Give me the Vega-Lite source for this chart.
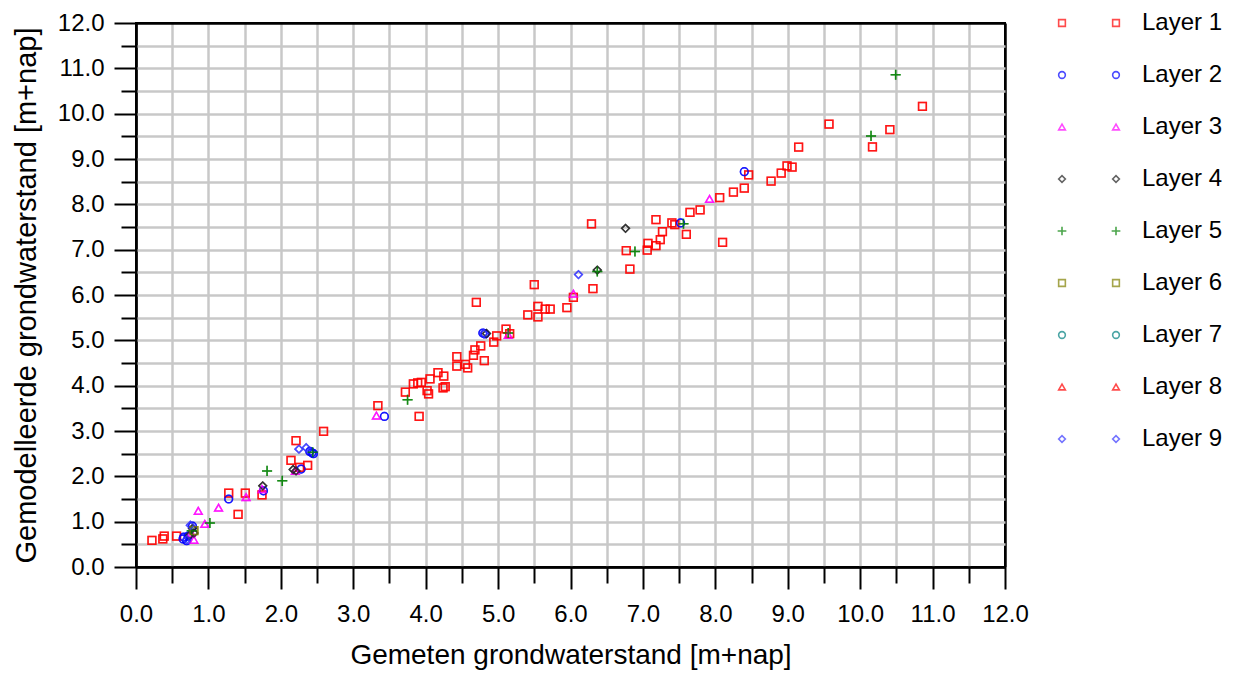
{
  "$schema": "https://vega.github.io/schema/vega-lite/v6.json",
  "width": 869,
  "height": 544,
  "autosize": "none",
  "padding": {"left": 136, "top": 23, "right": 230, "bottom": 106},
  "background": "white",
  "config": {
    "font": "Liberation Sans",
    "view": {"stroke": "black", "strokeWidth": 2}
  },
  "data": {
    "values": [
      {"layer": "Layer 1", "x": 0.22, "y": 0.59},
      {"layer": "Layer 1", "x": 0.37, "y": 0.62},
      {"layer": "Layer 1", "x": 0.39, "y": 0.68},
      {"layer": "Layer 1", "x": 0.56, "y": 0.68},
      {"layer": "Layer 1", "x": 1.28, "y": 1.63},
      {"layer": "Layer 1", "x": 1.41, "y": 1.16},
      {"layer": "Layer 1", "x": 1.51, "y": 1.63},
      {"layer": "Layer 1", "x": 1.74, "y": 1.59},
      {"layer": "Layer 1", "x": 2.14, "y": 2.35},
      {"layer": "Layer 1", "x": 2.21, "y": 2.79},
      {"layer": "Layer 1", "x": 2.37, "y": 2.24},
      {"layer": "Layer 1", "x": 2.26, "y": 2.2},
      {"layer": "Layer 1", "x": 2.59, "y": 2.99},
      {"layer": "Layer 1", "x": 3.34, "y": 3.56},
      {"layer": "Layer 1", "x": 3.91, "y": 3.32},
      {"layer": "Layer 1", "x": 3.72, "y": 3.86},
      {"layer": "Layer 1", "x": 4.02, "y": 3.89},
      {"layer": "Layer 1", "x": 4.04, "y": 3.82},
      {"layer": "Layer 1", "x": 4.24, "y": 3.95},
      {"layer": "Layer 1", "x": 4.27, "y": 3.98},
      {"layer": "Layer 1", "x": 3.83, "y": 4.04},
      {"layer": "Layer 1", "x": 3.89, "y": 4.06},
      {"layer": "Layer 1", "x": 3.94, "y": 4.07},
      {"layer": "Layer 1", "x": 4.06, "y": 4.15},
      {"layer": "Layer 1", "x": 4.17, "y": 4.29},
      {"layer": "Layer 1", "x": 4.25, "y": 4.21},
      {"layer": "Layer 1", "x": 4.43, "y": 4.64},
      {"layer": "Layer 1", "x": 4.43, "y": 4.43},
      {"layer": "Layer 1", "x": 4.55, "y": 4.47},
      {"layer": "Layer 1", "x": 4.58, "y": 4.39},
      {"layer": "Layer 1", "x": 4.66, "y": 4.67},
      {"layer": "Layer 1", "x": 4.68, "y": 4.79},
      {"layer": "Layer 1", "x": 4.76, "y": 4.88},
      {"layer": "Layer 1", "x": 4.81, "y": 4.55},
      {"layer": "Layer 1", "x": 4.94, "y": 4.96},
      {"layer": "Layer 1", "x": 4.98, "y": 5.1},
      {"layer": "Layer 1", "x": 5.11, "y": 5.25},
      {"layer": "Layer 1", "x": 5.16, "y": 5.15},
      {"layer": "Layer 1", "x": 5.41, "y": 5.56},
      {"layer": "Layer 1", "x": 5.55, "y": 5.52},
      {"layer": "Layer 1", "x": 5.55, "y": 5.75},
      {"layer": "Layer 1", "x": 5.5, "y": 6.23},
      {"layer": "Layer 1", "x": 4.7, "y": 5.84},
      {"layer": "Layer 1", "x": 5.65, "y": 5.69},
      {"layer": "Layer 1", "x": 5.72, "y": 5.69},
      {"layer": "Layer 1", "x": 5.95, "y": 5.72},
      {"layer": "Layer 1", "x": 6.04, "y": 5.95},
      {"layer": "Layer 1", "x": 6.31, "y": 6.14},
      {"layer": "Layer 1", "x": 6.29, "y": 7.57},
      {"layer": "Layer 1", "x": 6.77, "y": 6.98},
      {"layer": "Layer 1", "x": 6.82, "y": 6.57},
      {"layer": "Layer 1", "x": 7.06, "y": 6.99},
      {"layer": "Layer 1", "x": 7.07, "y": 7.14},
      {"layer": "Layer 1", "x": 7.18, "y": 7.09},
      {"layer": "Layer 1", "x": 7.24, "y": 7.22},
      {"layer": "Layer 1", "x": 7.27, "y": 7.4},
      {"layer": "Layer 1", "x": 7.18, "y": 7.66},
      {"layer": "Layer 1", "x": 7.4, "y": 7.59},
      {"layer": "Layer 1", "x": 7.44, "y": 7.55},
      {"layer": "Layer 1", "x": 7.6, "y": 7.34},
      {"layer": "Layer 1", "x": 7.65, "y": 7.82},
      {"layer": "Layer 1", "x": 7.79, "y": 7.88},
      {"layer": "Layer 1", "x": 8.06, "y": 8.15},
      {"layer": "Layer 1", "x": 8.1, "y": 7.16},
      {"layer": "Layer 1", "x": 8.25, "y": 8.27},
      {"layer": "Layer 1", "x": 8.4, "y": 8.36},
      {"layer": "Layer 1", "x": 8.46, "y": 8.65},
      {"layer": "Layer 1", "x": 8.77, "y": 8.51},
      {"layer": "Layer 1", "x": 8.91, "y": 8.69},
      {"layer": "Layer 1", "x": 8.99, "y": 8.85},
      {"layer": "Layer 1", "x": 9.06, "y": 8.82},
      {"layer": "Layer 1", "x": 9.15, "y": 9.26},
      {"layer": "Layer 1", "x": 9.57, "y": 9.77},
      {"layer": "Layer 1", "x": 10.17, "y": 9.27},
      {"layer": "Layer 1", "x": 10.41, "y": 9.65},
      {"layer": "Layer 1", "x": 10.86, "y": 10.16},
      {"layer": "Layer 2", "x": 0.65, "y": 0.62},
      {"layer": "Layer 2", "x": 0.7, "y": 0.58},
      {"layer": "Layer 2", "x": 0.72, "y": 0.68},
      {"layer": "Layer 2", "x": 0.78, "y": 0.9},
      {"layer": "Layer 2", "x": 0.66, "y": 0.66},
      {"layer": "Layer 2", "x": 1.28, "y": 1.5},
      {"layer": "Layer 2", "x": 1.76, "y": 1.68},
      {"layer": "Layer 2", "x": 2.28, "y": 2.16},
      {"layer": "Layer 2", "x": 2.4, "y": 2.55},
      {"layer": "Layer 2", "x": 2.43, "y": 2.52},
      {"layer": "Layer 2", "x": 2.45, "y": 2.5},
      {"layer": "Layer 2", "x": 3.43, "y": 3.32},
      {"layer": "Layer 2", "x": 4.79, "y": 5.16},
      {"layer": "Layer 2", "x": 4.82, "y": 5.14},
      {"layer": "Layer 2", "x": 7.52, "y": 7.59},
      {"layer": "Layer 2", "x": 8.4, "y": 8.72},
      {"layer": "Layer 3", "x": 0.8, "y": 0.6},
      {"layer": "Layer 3", "x": 0.76, "y": 0.75},
      {"layer": "Layer 3", "x": 0.86, "y": 1.24},
      {"layer": "Layer 3", "x": 0.95, "y": 0.95},
      {"layer": "Layer 3", "x": 1.14, "y": 1.31},
      {"layer": "Layer 3", "x": 1.52, "y": 1.54},
      {"layer": "Layer 3", "x": 1.74, "y": 1.72},
      {"layer": "Layer 3", "x": 2.2, "y": 2.12},
      {"layer": "Layer 3", "x": 3.32, "y": 3.34},
      {"layer": "Layer 3", "x": 5.14, "y": 5.12},
      {"layer": "Layer 3", "x": 6.04, "y": 6.03},
      {"layer": "Layer 3", "x": 7.92, "y": 8.12},
      {"layer": "Layer 4", "x": 0.78, "y": 0.85},
      {"layer": "Layer 4", "x": 0.8, "y": 0.75},
      {"layer": "Layer 4", "x": 0.74, "y": 0.7},
      {"layer": "Layer 4", "x": 1.75, "y": 1.79},
      {"layer": "Layer 4", "x": 2.17, "y": 2.15},
      {"layer": "Layer 4", "x": 2.21, "y": 2.12},
      {"layer": "Layer 4", "x": 4.84, "y": 5.15},
      {"layer": "Layer 4", "x": 6.37, "y": 6.55},
      {"layer": "Layer 4", "x": 6.76, "y": 7.47},
      {"layer": "Layer 5", "x": 0.77, "y": 0.8},
      {"layer": "Layer 5", "x": 1.02, "y": 0.97},
      {"layer": "Layer 5", "x": 1.81, "y": 2.12},
      {"layer": "Layer 5", "x": 2.02, "y": 1.9},
      {"layer": "Layer 5", "x": 2.44, "y": 2.53},
      {"layer": "Layer 5", "x": 3.75, "y": 3.69},
      {"layer": "Layer 5", "x": 5.14, "y": 5.16},
      {"layer": "Layer 5", "x": 6.37, "y": 6.52},
      {"layer": "Layer 5", "x": 6.89, "y": 6.96},
      {"layer": "Layer 5", "x": 7.56, "y": 7.57},
      {"layer": "Layer 5", "x": 10.15, "y": 9.51},
      {"layer": "Layer 5", "x": 10.49, "y": 10.86},
      {"layer": "Layer 6", "x": 0.8, "y": 0.8},
      {"layer": "Layer 9", "x": 0.75, "y": 0.92},
      {"layer": "Layer 9", "x": 0.7, "y": 0.6},
      {"layer": "Layer 9", "x": 2.25, "y": 2.6},
      {"layer": "Layer 9", "x": 2.35, "y": 2.63},
      {"layer": "Layer 9", "x": 4.8, "y": 5.15},
      {"layer": "Layer 9", "x": 6.11, "y": 6.45}
    ]
  },
  "encoding": {
    "x": {
      "field": "x",
      "type": "quantitative",
      "scale": {"domain": [0, 12], "nice": false, "zero": false},
      "axis": {
        "values": [0, 0.5, 1, 1.5, 2, 2.5, 3, 3.5, 4, 4.5, 5, 5.5, 6, 6.5, 7, 7.5, 8, 8.5, 9, 9.5, 10, 10.5, 11, 11.5, 12],
        "format": ".1f",
        "labelExpr": "datum.value % 1 === 0 ? datum.label : ''",
        "labelFlush": false,
        "labelOverlap": false,
        "labelFontSize": 24,
        "labelColor": "black",
        "labelPadding": 13,
        "tickSize": {"condition": {"test": "datum.value % 1 !== 0", "value": 16}, "value": 22},
        "tickWidth": 2,
        "tickColor": "black",
        "domainColor": "black",
        "domainWidth": 2,
        "grid": true,
        "gridColor": {"condition": {"test": "datum.value === 0 || datum.value === 12", "value": "black"}, "value": "#c8c8c8"},
        "gridWidth": 2.5,
        "gridOpacity": 1,
        "title": "Gemeten grondwaterstand [m+nap]",
        "titleFontSize": 28,
        "titleFontWeight": "normal",
        "titleColor": "black",
        "titlePadding": 15
      }
    },
    "y": {
      "field": "y",
      "type": "quantitative",
      "scale": {"domain": [0, 12], "nice": false, "zero": false},
      "axis": {
        "values": [0, 0.5, 1, 1.5, 2, 2.5, 3, 3.5, 4, 4.5, 5, 5.5, 6, 6.5, 7, 7.5, 8, 8.5, 9, 9.5, 10, 10.5, 11, 11.5, 12],
        "format": ".1f",
        "labelExpr": "datum.value % 1 === 0 ? datum.label : ''",
        "labelFlush": false,
        "labelOverlap": false,
        "labelFontSize": 24,
        "labelColor": "black",
        "labelPadding": 10,
        "tickSize": {"condition": {"test": "datum.value % 1 !== 0", "value": 15}, "value": 22},
        "tickWidth": 2,
        "tickColor": "black",
        "domainColor": "black",
        "domainWidth": 2,
        "grid": true,
        "gridColor": {"condition": {"test": "datum.value === 0 || datum.value === 12", "value": "black"}, "value": "#c8c8c8"},
        "gridWidth": 2.5,
        "gridOpacity": 1,
        "title": "Gemodelleerde grondwaterstand [m+nap]",
        "titleFontSize": 29,
        "titleFontWeight": "normal",
        "titleColor": "black",
        "titlePadding": 16
      }
    }
  },
  "layer": [
    {
      "mark": {"type": "point", "filled": false, "strokeWidth": 1.5, "size": 60},
      "encoding": {
        "color": {
          "field": "layer",
          "type": "nominal",
          "scale": {
            "domain": ["Layer 1", "Layer 2", "Layer 3", "Layer 4", "Layer 5", "Layer 6", "Layer 7", "Layer 8", "Layer 9"],
            "range": ["#ff0000", "#0000ff", "#ff00ff", "#222222", "#008000", "#808000", "#008080", "#ff0000", "#3a3aff"]
          },
          "legend": {
            "orient": "none", "legendX": 914, "legendY": -12, "title": null, "padding": 0,
            "symbolSize": 45, "symbolStrokeWidth": 1.6, "rowPadding": 28, "clipHeight": 24,
            "labelFontSize": 24, "labelExpr": "''", "labelOffset": 14
          }
        },
        "shape": {
          "field": "layer",
          "type": "nominal",
          "scale": {
            "domain": ["Layer 1", "Layer 2", "Layer 3", "Layer 4", "Layer 5", "Layer 6", "Layer 7", "Layer 8", "Layer 9"],
            "range": ["square", "circle", "triangle-up", "diamond", "M-1.3,0H1.3M0,-1.3V1.3", "square", "circle", "triangle-up", "diamond"]
          },
          "legend": {
            "orient": "none", "legendX": 914, "legendY": -12, "title": null, "padding": 0,
            "symbolSize": 45, "symbolStrokeWidth": 1.6, "rowPadding": 28, "clipHeight": 24,
            "labelFontSize": 24, "labelExpr": "''", "labelOffset": 14
          }
        }
      }
    },
    {
      "mark": {"type": "point", "filled": false, "strokeWidth": 1.5, "size": 60},
      "encoding": {
        "color": {
          "field": "layer",
          "type": "nominal",
          "scale": {
            "domain": ["Layer 1", "Layer 2", "Layer 3", "Layer 4", "Layer 5", "Layer 6", "Layer 7", "Layer 8", "Layer 9"],
            "range": ["#ff0000", "#0000ff", "#ff00ff", "#222222", "#008000", "#808000", "#008080", "#ff0000", "#3a3aff"]
          },
          "legend": {
            "orient": "none", "legendX": 968, "legendY": -12, "title": null, "padding": 0,
            "symbolSize": 45, "symbolStrokeWidth": 1.6, "rowPadding": 28, "clipHeight": 24,
            "labelFontSize": 24, "labelColor": "black", "labelOffset": 14
          }
        },
        "shape": {
          "field": "layer",
          "type": "nominal",
          "scale": {
            "domain": ["Layer 1", "Layer 2", "Layer 3", "Layer 4", "Layer 5", "Layer 6", "Layer 7", "Layer 8", "Layer 9"],
            "range": ["square", "circle", "triangle-up", "diamond", "M-1.3,0H1.3M0,-1.3V1.3", "square", "circle", "triangle-up", "diamond"]
          },
          "legend": {
            "orient": "none", "legendX": 968, "legendY": -12, "title": null, "padding": 0,
            "symbolSize": 45, "symbolStrokeWidth": 1.6, "rowPadding": 28, "clipHeight": 24,
            "labelFontSize": 24, "labelColor": "black", "labelOffset": 14
          }
        }
      }
    }
  ],
  "resolve": {"scale": {"color": "independent", "shape": "independent"}}
}
